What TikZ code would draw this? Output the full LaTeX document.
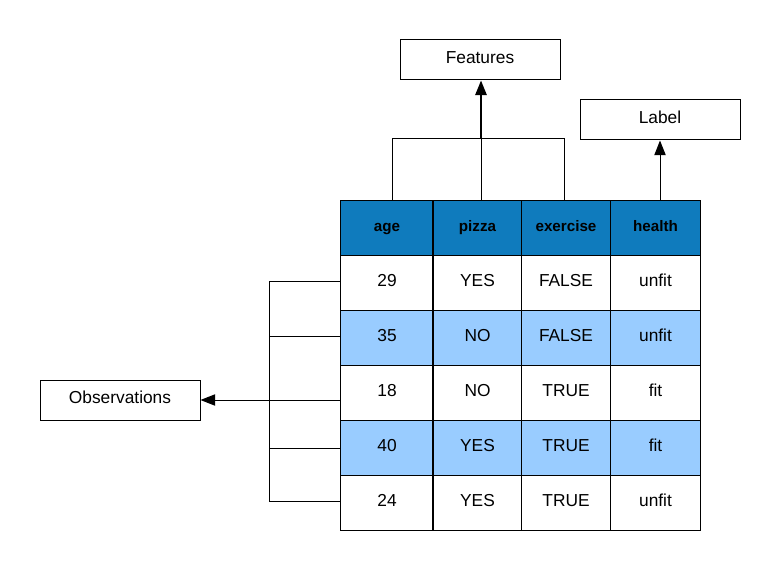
\documentclass[tikz,border=0pt]{standalone}
\usepackage{fontspec}
\setmainfont{Liberation Sans}
\usetikzlibrary{arrows.meta}
\definecolor{headblue}{HTML}{0F7BBD}
\definecolor{rowblue}{HTML}{99CCFF}
% one data row of the table: index, top y, fill, four values
\newcommand\tabrow[7]{%
  \node[cell,fill=#3,minimum width=69.75pt] (r#1c1) at (340,#2) {#4};
  \node[cell,fill=#3,minimum width=66pt]    (r#1c2) at (433,#2) {#5};
  \node[cell,fill=#3,minimum width=66.75pt] (r#1c3) at (521,#2) {#6};
  \node[cell,fill=#3,minimum width=67.5pt]  (r#1c4) at (610,#2) {#7};
}
\begin{document}
\begin{tikzpicture}[x=0.75pt,y=-0.75pt,line width=0.75pt,
  box/.style={draw=black,line width=0.75pt,fill=white,minimum width=120pt,
    minimum height=30pt,inner sep=0pt,text height=9.5pt,text depth=4.5pt,
    font=\fontsize{13}{15}\selectfont},
  cell/.style={draw=black,line width=0.75pt,inner sep=0pt,anchor=north west,
    minimum height=41.25pt,text height=9.5pt,text depth=4.5pt,
    font=\fontsize{13}{15}\selectfont},
  headcell/.style={cell,fill=headblue,text height=8.5pt,text depth=3.5pt,
    font=\fontsize{11.4}{13}\selectfont\bfseries},
  tip/.style={-{Triangle[length=11pt,width=8.5pt]}}]
\useasboundingbox (0,0) rectangle (780,570);

% header row
\node[headcell,minimum width=69.75pt] (r0c1) at (340,200) {age};
\node[headcell,minimum width=66pt]    (r0c2) at (433,200) {pizza};
\node[headcell,minimum width=66.75pt] (r0c3) at (521,200) {exercise};
\node[headcell,minimum width=67.5pt]  (r0c4) at (610,200) {health};

% data rows
\tabrow{1}{255}{white}{29}{YES}{FALSE}{unfit}
\tabrow{2}{310}{rowblue}{35}{NO}{FALSE}{unfit}
\tabrow{3}{365}{white}{18}{NO}{TRUE}{fit}
\tabrow{4}{420}{rowblue}{40}{YES}{TRUE}{fit}
\tabrow{5}{475}{white}{24}{YES}{TRUE}{unfit}

% heavier rule after the first column
\draw[line width=1.5pt] (r0c2.north west) -- (r5c2.south west);

% captions
\node[box] (features) at (480,60) {Features};
\node[box] (label) at (660,120) {Label};
\node[box] (obs) at (120,400) {Observations};

% feature bracket
\coordinate (fa) at (392,139);
\coordinate (fb) at (481,139);
\coordinate (fc) at (564,139);
\draw (fa |- r0c1.north) -- (fa) -- (fc) -- (fc |- r0c3.north);
\draw (fb |- r0c2.north) -- (fb);
\draw[line width=1.5pt,tip] (fb) -- (fb |- features.south);

% label arrow
\coordinate (la) at (660,200);
\draw[tip] (la) -- (label.south);

% observation bracket
\coordinate (ot) at (269,281);
\coordinate (ob) at (269,501);
\draw (r1c1.west |- ot) -- (ot) -- (ob) -- (r5c1.west |- ob);
\draw (r1c1.south west |- 0,336) -- (269,336);
\draw (r4c1.west |- 0,448) -- (269,448);
\draw[tip] (r3c1.west |- obs.east) -- (obs.east);
\end{tikzpicture}
\end{document}
